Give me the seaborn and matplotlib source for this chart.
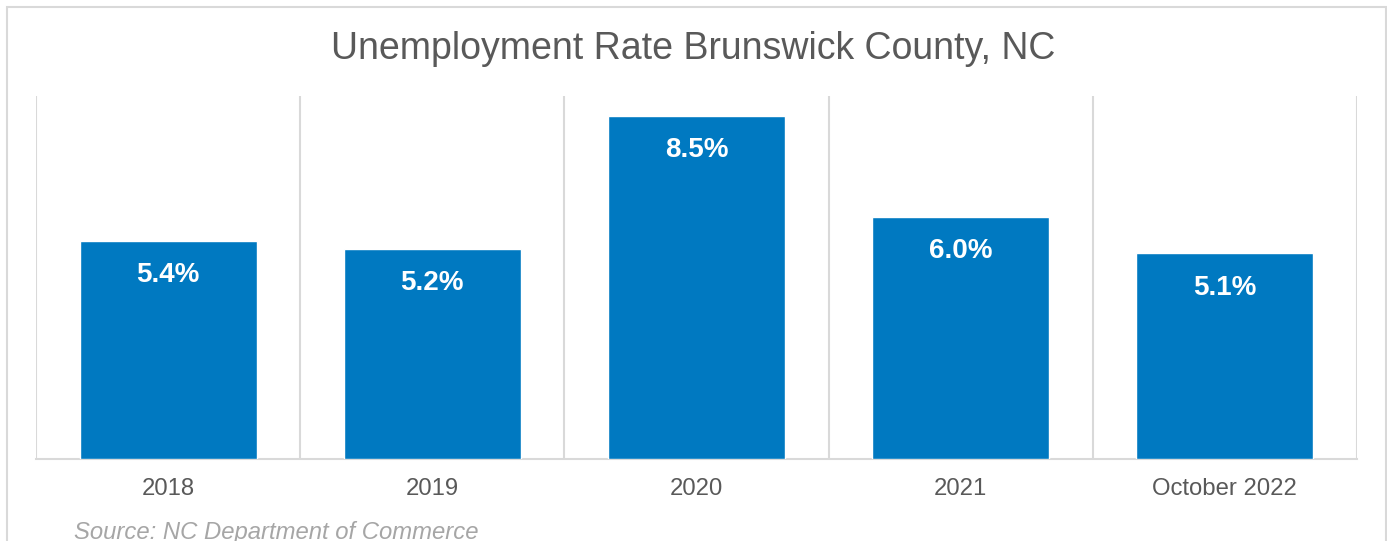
import matplotlib
matplotlib.use("Agg")
import matplotlib.pyplot as plt
import seaborn as sns
import pandas as pd
import numpy as np
from matplotlib.patches import Rectangle
from matplotlib.ticker import FixedLocator

categories = ["2018", "2019", "2020", "2021", "October 2022"]
rates = [5.4, 5.2, 8.5, 6.0, 5.1]
labels = ["5.4%", "5.2%", "8.5%", "6.0%", "5.1%"]

df = pd.DataFrame({"period": categories, "rate": rates})

sns.set_theme(style="white")
plt.rcParams["font.family"] = ["Liberation Sans", "DejaVu Sans"]

fig = plt.figure(figsize=(13.87, 5.41), dpi=100)
ax = fig.add_axes([36/1387, 1-459/541, (1357-36)/1387, (459-96)/541])

bar_color = "#0079C1"
sns.barplot(data=df, x="period", y="rate", color=bar_color, width=0.67,
            saturation=1, ax=ax, zorder=3)

ax.set_xlim(-0.5, len(categories) - 0.5)
ax.set_ylim(0, 9)
ax.set_xlabel("")
ax.set_ylabel("")
ax.set_yticks([])

grid_col = "#D9D9D9"
ax.xaxis.set_minor_locator(FixedLocator(np.arange(-0.5, len(categories), 1.0)))
ax.grid(False)
ax.grid(True, which="minor", axis="x", color=grid_col, linewidth=1.5, zorder=0)
ax.tick_params(axis="x", which="both", length=0, labelsize=17.2,
               labelcolor="#595959", pad=14)

for s in ["top", "left", "right"]:
    ax.spines[s].set_visible(False)
ax.spines["bottom"].set_color(grid_col)
ax.spines["bottom"].set_linewidth(1.5)

for cont in ax.containers:
    ax.bar_label(cont, labels=labels, label_type="edge", padding=-34,
                 color="white", fontsize=20, fontweight="bold")

fig.text(0.5, 1-49/541, "Unemployment Rate Brunswick County, NC",
         ha="center", va="center", fontsize=27, color="#595959")

fig.text(74/1387, 1-532/541, "Source: NC Department of Commerce",
         ha="left", va="center", fontsize=17.2, style="italic", color="#A6A6A6")

border = Rectangle((6.5/1387, -0.1), (1385.5-6.5)/1387, 1.1 - 6.5/541,
                   transform=fig.transFigure, fill=False, edgecolor="#D9D9D9",
                   linewidth=1.5, clip_on=False)
fig.patches.append(border)

fig.savefig("out.png", dpi=100, facecolor="white")
